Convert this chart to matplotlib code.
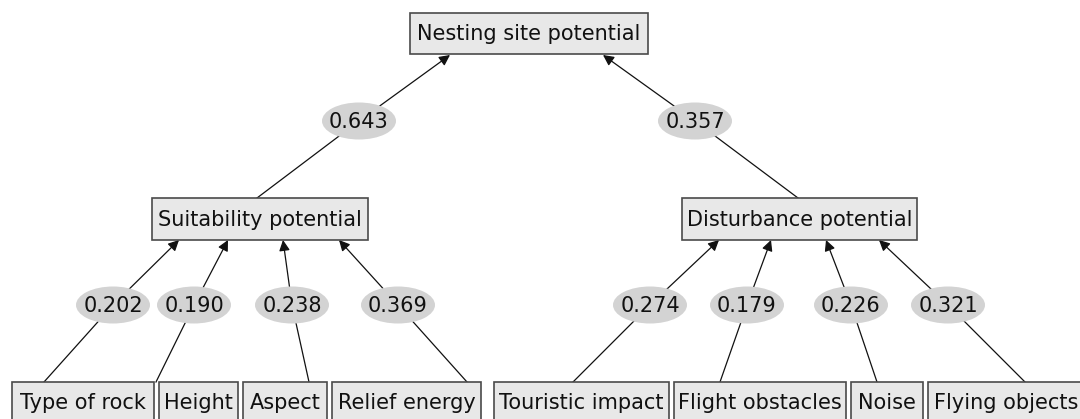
import matplotlib
matplotlib.use('Agg')
from matplotlib import pyplot as plt
from matplotlib.patches import Rectangle, Ellipse

# hierarchy + weights (AHP style)
root = 'Nesting site potential'
groups = ['Suitability potential', 'Disturbance potential']
group_weights = [0.643, 0.357]

suit_factors = ['Type of rock', 'Height', 'Aspect', 'Relief energy']
suit_weights = [0.202, 0.190, 0.238, 0.369]

dist_factors = ['Touristic impact', 'Flight obstacles', 'Noise', 'Flying objects']
dist_weights = [0.274, 0.179, 0.226, 0.321]

# layout in pixel coords (x0, x1, ytop, ybottom)
root_box = (410, 648, 13, 54)
group_boxes = [(152, 368, 198, 240), (682, 917, 198, 240)]
leaf_boxes = [(12, 154), (159, 238), (243, 327), (332, 481),
              (494, 669), (674, 846), (851, 923), (928, 1084)]
leaf_top, leaf_bot = 382, 421

# edges: start point on child, label centre, arrow tip on parent
group_edges = [((257, 198), (359, 121), (450, 55)),
               ((798, 198), (695, 121), (603, 55))]
leaf_start_x = [44, 156, 309, 467, 573, 720, 877, 1025]
leaf_label_x = [113, 194, 292, 398, 650, 747, 851, 948]
leaf_tip_x = [179, 228, 283, 339, 719, 771, 826, 879]
leaf_label_y = 305

FS = 15
box_fc = '#e8e8e8'
box_ec = '#4a4a4a'
ell_fc = '#d3d3d3'
line_c = '#111111'

fig = plt.figure(figsize=(10.8, 4.19), dpi=100)
ax = fig.add_axes([0, 0, 1, 1])
ax.set_xlim(0, 1080)
ax.set_ylim(419, 0)
ax.axis('off')


def draw_box(x0, x1, y0, y1, text):
    ax.add_patch(Rectangle((x0, y0), x1 - x0, y1 - y0, facecolor=box_fc,
                           edgecolor=box_ec, lw=1.2, zorder=3))
    ax.text((x0 + x1) / 2, (y0 + y1) / 2 + 1, text, fontsize=FS, ha='center',
            va='center', color='#111111', zorder=4, clip_on=False)


def draw_edge(start, mid, tip, w):
    ax.plot([start[0], mid[0]], [start[1], mid[1]], color=line_c, lw=0.9, zorder=1)
    ax.annotate('', xy=tip, xytext=mid,
                arrowprops=dict(arrowstyle='-|>', color=line_c, lw=0.9,
                                mutation_scale=16, shrinkA=0, shrinkB=0),
                zorder=1)
    ax.add_patch(Ellipse(mid, 74, 37, facecolor=ell_fc, edgecolor='none', zorder=2))
    ax.text(mid[0], mid[1] + 1, f'{w:.3f}', fontsize=FS, ha='center', va='center',
            color='#111111', zorder=4)


draw_box(*root_box, root)
for b, name, w, e in zip(group_boxes, groups, group_weights, group_edges):
    draw_box(*b, name)
    draw_edge(e[0], e[1], e[2], w)

leaf_names = suit_factors + dist_factors
leaf_weights = suit_weights + dist_weights
for i, (name, w) in enumerate(zip(leaf_names, leaf_weights)):
    x0, x1 = leaf_boxes[i]
    draw_box(x0, x1, leaf_top, leaf_bot, name)
    draw_edge((leaf_start_x[i], leaf_top), (leaf_label_x[i], leaf_label_y),
              (leaf_tip_x[i], 240), w)

fig.savefig('out.png', dpi=100, facecolor='white')
